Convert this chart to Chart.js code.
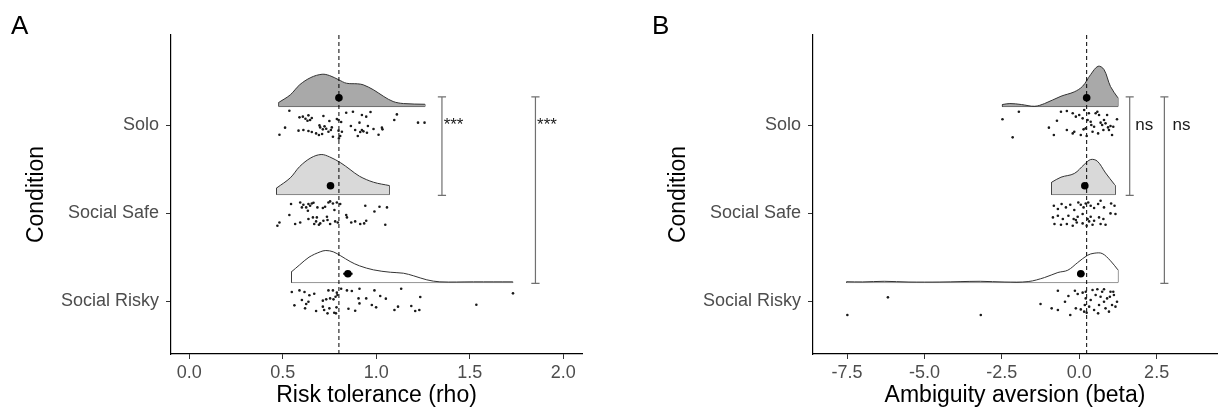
<!DOCTYPE html>
<html>
<head>
<meta charset="utf-8">
<script src="https://cdn.jsdelivr.net/npm/chart.js@4"></script>
<style>
  body { margin: 0; background: #fff; font-family: "Liberation Sans", Arial, sans-serif; }
  #wrap { position: relative; width: 1221px; height: 416px; overflow: hidden; }
  canvas { position: absolute; top: 0; }
  .tag { position: absolute; top: 12px; font-size: 26px; line-height: 26px; color: #000; }
</style>
</head>
<body>
<div id="wrap">
  <canvas id="chartA" width="610" height="416" style="left:0"></canvas>
  <canvas id="chartB" width="610" height="416" style="left:611px"></canvas>
  <div class="tag" style="left:11px">A</div>
  <div class="tag" style="left:652px">B</div>
</div>
<script>
// conditions, top to bottom
const conditions = ["Solo", "Social Safe", "Social Risky"];
const conditionPos = [3, 2, 1];
const cloudFills = ["#a9a9a9", "#d9d9d9", "#ffffff"];

// ---- panel A: risk tolerance (rho) ----
const rhoTicks = [0, 0.5, 1.0, 1.5, 2.0];
const rhoRef = 0.80;
const rhoMeans = [0.80, 0.755, 0.848];
const rhoMeanErr = [0.012, 0.008, 0.025];

const rhoSoloX = [0.535,0.589,0.607,0.621,0.637,0.646,0.655,0.632,0.717,0.749,0.789,0.798,0.812,0.839,0.875,0.923,0.946,0.969,1.110,1.096,1.223,1.258,0.512,0.482,0.584,0.610,0.637,0.655,0.678,0.696,0.700,0.714,0.723,0.732,0.744,0.757,0.762,0.768,0.710,0.693,0.807,0.798,0.864,0.887,0.901,0.914,0.910,0.923,0.931,0.950,0.955,0.985,1.012,1.030,1.033,0.800,0.816];
const rhoSoloJit = [0.163,0.087,0.095,0.072,0.110,0.057,0.080,0.049,0.102,0.045,0.068,0.057,0.034,0.140,0.151,0.114,0.095,0.148,0.121,0.057,0.027,0.027,-0.030,-0.110,-0.064,-0.057,-0.068,-0.080,-0.095,-0.004,-0.027,-0.049,-0.015,-0.042,-0.076,-0.057,-0.027,-0.133,-0.102,-0.114,-0.125,-0.064,-0.011,-0.057,-0.125,-0.080,0.027,-0.057,-0.072,-0.087,-0.011,-0.045,-0.110,-0.030,-0.049,-0.152,-0.076];
const rhoSafeX = [0.544,0.593,0.610,0.625,0.637,0.646,0.655,0.664,0.602,0.634,0.685,0.714,0.726,0.744,0.753,0.768,0.789,0.807,0.776,0.941,0.990,1.017,1.057,0.535,0.482,0.471,0.566,0.593,0.661,0.678,0.700,0.717,0.736,0.753,0.780,0.794,0.839,0.843,0.866,0.887,0.914,0.935,0.946,1.048,0.637,0.668,0.693,0.739,0.682];
const rhoSafeJit = [0.102,0.120,0.094,0.064,0.102,0.083,0.109,0.117,0.064,0.026,0.064,0.057,0.072,0.120,0.132,0.109,0.120,0.102,0.034,0.083,0.018,0.072,0.064,-0.023,-0.107,-0.144,-0.125,-0.107,-0.050,-0.095,-0.118,-0.088,-0.042,-0.125,-0.095,-0.107,-0.023,-0.050,-0.107,-0.095,-0.125,-0.118,-0.088,-0.133,-0.068,-0.125,-0.133,-0.080,-0.050];
const rhoRiskyX = [0.548,0.589,0.616,0.642,0.668,0.744,0.768,0.789,0.812,0.843,0.869,0.910,0.990,1.133,1.731,0.602,0.637,0.625,0.714,0.732,0.753,0.771,0.782,0.792,0.905,0.946,1.021,1.051,1.235,0.562,0.619,0.678,0.714,0.739,0.749,0.775,0.787,0.851,0.887,0.910,0.976,0.999,1.097,1.116,1.187,1.208,1.230,1.535,0.721,0.784];
const rhoRiskyJit = [0.102,0.121,0.102,0.065,0.083,0.121,0.121,0.095,0.140,0.121,0.114,0.140,0.121,0.140,0.087,0.011,-0.008,-0.034,0.004,0.019,0.030,0.019,0.049,0.068,0.030,0.030,0.057,0.027,0.045,-0.049,-0.083,-0.114,-0.064,-0.140,-0.083,-0.133,-0.072,-0.087,-0.110,-0.027,-0.045,-0.072,-0.102,-0.064,-0.057,-0.114,-0.102,-0.042,-0.102,-0.140];

// half-violin densities (height in condition units)
const rhoSoloDensX = [0.48,0.54,0.59,0.65,0.71,0.75,0.80,0.84,0.90,0.93,0.985,1.04,1.09,1.145,1.26];
const rhoSoloDensH = [0.049,0.133,0.247,0.330,0.367,0.352,0.303,0.265,0.258,0.247,0.190,0.114,0.057,0.034,0.026];
const rhoSafeDensX = [0.468,0.54,0.59,0.65,0.705,0.75,0.81,0.86,0.91,0.985,1.07];
const rhoSafeDensH = [0.076,0.190,0.318,0.417,0.455,0.428,0.360,0.284,0.208,0.140,0.102];
const rhoRiskyDensX = [0.548,0.59,0.64,0.70,0.73,0.77,0.81,0.86,0.91,0.985,1.075,1.145,1.20,1.27,1.34,1.52,1.73];
const rhoRiskyDensH = [0.125,0.201,0.288,0.349,0.364,0.349,0.303,0.239,0.190,0.144,0.117,0.106,0.076,0.031,0.008,0.008,0.008];

// comparisons: Solo vs Social Safe, Solo vs Social Risky
const rhoSigX = [1.351, 1.851];
const rhoSigTo = [1, 2];
const rhoSigText = ["***", "***"];
const rhoSigTextX = [1.36, 1.86];

// ---- panel B: ambiguity aversion (beta) ----
const betaTicks = [-7.5, -5.0, -2.5, 0.0, 2.5];
const betaRef = 0.24;
const betaMeans = [0.24, 0.18, 0.05];
const betaMeanErr = [0.05, 0.05, 0.12];

const betaSoloX = [-2.48,-1.95,-2.15,-0.98,-0.82,-0.72,-0.59,-0.40,-0.40,-0.21,-0.16,-0.11,0.00,0.05,0.11,0.16,0.21,0.24,0.27,0.37,0.43,0.48,0.53,0.585,0.64,0.69,0.74,0.80,0.85,0.90,0.93,0.96,1.01,1.06,1.10,1.22,-0.21,0.14,0.31,0.39,0.61,0.78];
const betaSoloJit = [0.065,0.151,-0.140,-0.030,-0.114,0.049,0.151,0.159,-0.057,0.133,-0.076,0.095,0.114,-0.114,0.076,0.170,-0.038,-0.125,0.057,0.038,-0.076,-0.019,0.133,0.151,0.114,0.027,0,0.057,0.019,0.114,-0.027,-0.057,-0.011,-0.114,-0.019,0.065,-0.095,-0.049,0.133,0,-0.095,-0.057];
const betaSafeX = [-0.82,-0.69,-0.57,-0.43,-0.29,-0.16,-0.03,0.05,0.14,0.21,0.29,0.37,0.48,0.61,0.69,0.80,1.03,1.14,-0.85,-0.69,-0.53,-0.35,-0.18,-0.05,0.11,0.27,0.37,0.48,0.64,0.78,1.01,1.17,-0.80,-0.59,-0.40,-0.21,-0.08,0.11,0.24,0.32,0.43,0.69,0.85,-0.11];
const betaSafeJit = [0.083,0.045,0.102,0.064,0.094,0.034,0.120,0.094,0.064,0.109,0.120,0.083,0.057,0.102,0.140,0.064,0.109,0.083,-0.050,-0.031,-0.068,-0.031,-0.068,-0.042,-0.011,-0.068,-0.042,-0.088,-0.050,-0.068,-0.004,-0.011,-0.125,-0.133,-0.125,-0.144,-0.107,-0.118,-0.144,-0.095,-0.133,-0.125,-0.133,-0.080];
const betaRiskyX = [-7.49,-6.18,-3.18,-1.25,-0.89,-0.69,-0.69,-0.46,-0.35,-0.29,-0.14,-0.11,-0.05,0.11,0.16,0.18,0.21,0.24,0.32,0.37,0.43,0.48,0.53,0.585,0.64,0.69,0.74,0.80,0.85,0.90,0.96,1.01,1.06,1.12,1.17,1.22,1.10,0.21,0.05,0.61,0.80,0.99];
const betaRiskyJit = [-0.159,0.042,-0.159,-0.034,-0.083,0.117,-0.102,-0.008,0.057,-0.159,0.117,-0.083,0.080,0.095,-0.121,-0.045,0.106,-0.133,-0.064,0.011,0.125,-0.102,0.068,0.133,-0.045,0.049,0.106,-0.008,-0.083,0.030,-0.121,0.106,-0.045,0.068,-0.064,-0.008,0.106,0.030,-0.095,-0.140,0.133,0.049];

const betaSoloDensX = [-2.48,-2.24,-1.87,-1.44,-1.12,-0.59,-0.16,0.11,0.37,0.61,0.80,1.01,1.25];
const betaSoloDensH = [0.023,0.034,0.023,0.003,0.034,0.117,0.167,0.231,0.364,0.458,0.420,0.227,0.099];
const betaSafeDensX = [-0.89,-0.59,-0.16,0.16,0.37,0.585,0.85,1.14,1.17];
const betaSafeDensH = [0.140,0.197,0.239,0.341,0.398,0.379,0.246,0.114,0.102];
const betaRiskyDensX = [-7.51,-7.0,-6.3,-5.5,-4.5,-3.2,-2.4,-1.65,-1.12,-0.69,-0.37,-0.05,0.27,0.48,0.74,1.01,1.25];
const betaRiskyDensH = [0.009,0.007,0.014,0.006,0.006,0.014,0.006,0.011,0.057,0.114,0.140,0.227,0.310,0.333,0.330,0.247,0.144];

const betaSigX = [1.63, 2.75];
const betaSigTo = [1, 2];
const betaSigText = ["ns", "ns"];
const betaSigTextX = [1.81, 3.01];

const yMin = 0.398, yMax = 4.023;
const fontFamily = '"Liberation Sans", Arial, sans-serif';

// draws the significance labels next to the brackets
const sigLabels = {
  id: 'sigLabels',
  afterDatasetsDraw(chart, args, opts) {
    const { ctx, scales: { x, y } } = chart;
    ctx.save();
    ctx.font = '17px ' + fontFamily;
    ctx.fillStyle = '#1a1a1a';
    ctx.textAlign = 'left';
    ctx.textBaseline = 'middle';
    opts.text.forEach((t, i) => {
      ctx.fillText(t, x.getPixelForValue(opts.x[i]), y.getPixelForValue(conditionPos[0]));
    });
    ctx.restore();
  }
};

function makePanel(id, p) {
  const ds = [];

  // raw points (rain)
  p.pts.forEach((xs, i) => {
    ds.push({
      data: xs.map((x, k) => ({ x, y: conditionPos[i] + p.jit[i][k] })),
      showLine: false, pointRadius: 1.3, pointBackgroundColor: '#1a1a1a',
      pointBorderWidth: 0, order: 1
    });
  });

  // means with error bars
  p.means.forEach((m, i) => {
    const y = conditionPos[i] + 0.31;
    ds.push({
      data: [{ x: m - p.err[i], y }, { x: m + p.err[i], y }],
      borderColor: '#000', borderWidth: 2, pointRadius: 0, order: 0
    });
    ds.push({
      data: [{ x: m, y }], showLine: false, pointRadius: 3.8,
      pointBackgroundColor: '#000', pointBorderWidth: 0, order: 0
    });
  });

  // reference line
  ds.push({
    data: [{ x: p.ref, y: yMin }, { x: p.ref, y: yMax }],
    borderColor: '#000', borderWidth: 1, borderDash: [4, 3], pointRadius: 0, order: 1
  });

  // half violins (clouds)
  p.densX.forEach((dx, i) => {
    const base = conditionPos[i] + 0.21;
    const dh = p.densH[i];
    const last = dx.length - 1;
    ds.push({
      data: dx.map((x, k) => ({ x, y: base + dh[k] })),
      tension: 0.35, fill: { value: base }, backgroundColor: cloudFills[i],
      borderColor: '#333', borderWidth: 1, pointRadius: 0, order: 2
    });
    ds.push({
      data: [{ x: dx[0], y: base + dh[0] }, { x: dx[0], y: base }, { x: dx[last], y: base }, { x: dx[last], y: base + dh[last] }],
      borderColor: '#333', borderWidth: 1, pointRadius: 0, order: 2
    });
  });

  // significance brackets
  p.sigX.forEach((x, i) => {
    const top = conditionPos[0] + 0.32;
    const bot = conditionPos[p.sigTo[i]] + 0.2;
    const c = p.cap;
    ds.push({
      data: [{ x: x - c, y: top }, { x: x + c, y: top }, { x, y: top }, { x, y: bot }, { x: x - c, y: bot }, { x: x + c, y: bot }],
      borderColor: '#707070', borderWidth: 1.2, pointRadius: 0, order: 1
    });
  });

  new Chart(document.getElementById(id), {
    type: 'line',
    data: { datasets: ds },
    plugins: [sigLabels],
    options: {
      responsive: false,
      animation: false,
      layout: { padding: { top: 35, right: p.padRight, left: 0, bottom: 0 } },
      plugins: {
        legend: { display: false },
        tooltip: { enabled: false },
        sigLabels: { text: p.sigText, x: p.sigTextX }
      },
      scales: {
        x: {
          type: 'linear', min: p.xMin, max: p.xMax,
          afterBuildTicks: s => { s.ticks = p.ticks.map(v => ({ value: v })); },
          afterFit: s => { s.height = 62; },
          ticks: { callback: v => v.toFixed(1), color: '#4d4d4d', padding: 3, maxRotation: 0, font: { size: 18, family: fontFamily } },
          grid: { drawOnChartArea: false, drawTicks: true, tickLength: 5, color: '#333' },
          border: { display: true, color: '#000', width: 1.2 },
          title: { display: true, text: p.xTitle, color: '#000', padding: { bottom: 7 }, font: { size: 23, family: fontFamily } }
        },
        y: {
          type: 'linear', min: yMin, max: yMax,
          afterBuildTicks: s => { s.ticks = conditionPos.map(v => ({ value: v })); },
          afterFit: s => { s.width = p.axisWidth; },
          ticks: { callback: v => conditions[conditionPos.indexOf(v)], color: '#4d4d4d', padding: 7, font: { size: 18, family: fontFamily } },
          grid: { drawOnChartArea: false, drawTicks: true, tickLength: 5, color: '#333' },
          border: { display: true, color: '#000', width: 1.2 },
          title: { display: true, text: 'Condition', color: '#000', padding: { top: p.titlePad }, font: { size: 23, family: fontFamily } }
        }
      }
    }
  });
}

makePanel('chartA', {
  pts: [rhoSoloX, rhoSafeX, rhoRiskyX],
  jit: [rhoSoloJit, rhoSafeJit, rhoRiskyJit],
  densX: [rhoSoloDensX, rhoSafeDensX, rhoRiskyDensX],
  densH: [rhoSoloDensH, rhoSafeDensH, rhoRiskyDensH],
  means: rhoMeans, err: rhoMeanErr, ref: rhoRef,
  sigX: rhoSigX, sigTo: rhoSigTo, sigText: rhoSigText, sigTextX: rhoSigTextX, cap: 0.022,
  ticks: rhoTicks, xMin: -0.098, xMax: 2.10,
  xTitle: 'Risk tolerance (rho)', axisWidth: 171, padRight: 28, titlePad: 23
});

makePanel('chartB', {
  pts: [betaSoloX, betaSafeX, betaRiskyX],
  jit: [betaSoloJit, betaSafeJit, betaRiskyJit],
  densX: [betaSoloDensX, betaSafeDensX, betaRiskyDensX],
  densH: [betaSoloDensH, betaSafeDensH, betaRiskyDensH],
  means: betaMeans, err: betaMeanErr, ref: betaRef,
  sigX: betaSigX, sigTo: betaSigTo, sigText: betaSigText, sigTextX: betaSigTextX, cap: 0.13,
  ticks: betaTicks, xMin: -8.6, xMax: 4.45,
  xTitle: 'Ambiguity aversion (beta)', axisWidth: 202, padRight: 0, titlePad: 54
});
</script>
</body>
</html>
